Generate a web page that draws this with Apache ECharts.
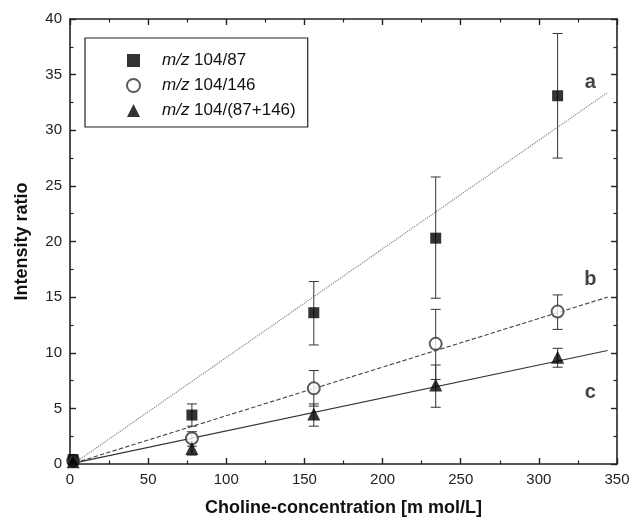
<!DOCTYPE html>
<html><head><meta charset="utf-8">
<script src="https://cdn.jsdelivr.net/npm/echarts@6/dist/echarts.min.js"></script>
<style>html,body{margin:0;padding:0;background:#fff}#c{width:633px;height:523px}</style>
</head><body><div id="c"></div>
<script>
// ---- data ----
const concentrations = [2, 78, 156, 234, 312];
const ratio87 = [0.4, 4.4, 13.6, 20.3, 33.1];
const ratio87Low = [0.3, 3.4, 10.7, 14.9, 27.5];
const ratio87High = [0.5, 5.4, 16.4, 25.8, 38.7];
const ratio146 = [0.3, 2.3, 6.8, 10.8, 13.7];
const ratio146Low = [0.2, 1.6, 5.2, 7.6, 12.1];
const ratio146High = [0.4, 2.9, 8.4, 13.9, 15.2];
const ratioSum = [0.2, 1.4, 4.5, 7.1, 9.6];
const ratioSumLow = [0.1, 0.8, 3.4, 5.1, 8.7];
const ratioSumHigh = [0.3, 2.0, 5.4, 8.9, 10.4];
const fitX = [3, 344];
const fitA = [0.1, 33.4];
const fitB = [0.1, 15.0];
const fitC = [0.1, 10.2];
const seriesNames = ['m/z 104/87', 'm/z 104/146', 'm/z 104/(87+146)'];
const curveLabels = ['a', 'b', 'c'];
const curveLabelX = [333, 333, 333];
const curveLabelY = [34.3, 16.6, 6.4];
const xTickLabels = [0, 50, 100, 150, 200, 250, 300, 350];
const yTickLabels = [0, 5, 10, 15, 20, 25, 30, 35, 40];

const FONT = '"Liberation Sans", Arial, sans-serif';
const AX = '#222';

function errorBars(low, high) {
  return {
    type: 'custom', silent: true, z: 2,
    data: concentrations.map((x, i) => [x, low[i], high[i]]),
    renderItem: function (params, api) {
      const x = api.value(0);
      const lo = api.coord([x, api.value(1)]);
      const hi = api.coord([x, api.value(2)]);
      const hw = 5;
      const st = { stroke: '#333', lineWidth: 1 };
      return { type: 'group', children: [
        { type: 'line', shape: { x1: lo[0], y1: lo[1], x2: hi[0], y2: hi[1] }, style: st },
        { type: 'line', shape: { x1: lo[0] - hw, y1: lo[1], x2: lo[0] + hw, y2: lo[1] }, style: st },
        { type: 'line', shape: { x1: hi[0] - hw, y1: hi[1], x2: hi[0] + hw, y2: hi[1] }, style: st }
      ]};
    }
  };
}
function fitLine(ys, type, color) {
  return { type: 'line', silent: true, showSymbol: false, symbol: 'none', z: 1,
    data: fitX.map((x, i) => [x, ys[i]]),
    lineStyle: { type: type, color: color, width: 1.1 } };
}
function axisCommon(extra) {
  return Object.assign({
    type: 'value',
    axisLine: { show: true, onZero: false, lineStyle: { color: AX, width: 1.6 } },
    axisTick: { show: true, inside: true, length: 6, lineStyle: { color: AX, width: 1.4 } },
    minorTick: { show: true, splitNumber: 2, length: 3.5, lineStyle: { color: AX, width: 1.2 } },
    splitLine: { show: false }
  }, extra);
}

const chart = echarts.init(document.getElementById('c'), null, { renderer: 'canvas' });
chart.setOption({
  backgroundColor: '#fff',
  animation: false,
  grid: { left: 70, right: 16, top: 19, bottom: 59 },
  xAxis: [
    axisCommon({ min: 0, max: 350, interval: 50, position: 'bottom',
      name: 'Choline-concentration [m mol/L]', nameLocation: 'middle', nameGap: 35,
      nameTextStyle: { fontFamily: FONT, fontWeight: 'bold', fontSize: 18, color: '#111' },
      axisLabel: { margin: 8, fontFamily: FONT, fontSize: 15, color: '#222',
        formatter: v => xTickLabels.includes(v) ? String(v) : '' } }),
    axisCommon({ min: 0, max: 350, interval: 50, position: 'top', axisLabel: { show: false } })
  ],
  yAxis: [
    axisCommon({ min: 0, max: 40, interval: 5, position: 'left',
      name: 'Intensity ratio', nameLocation: 'middle', nameGap: 39,
      nameTextStyle: { fontFamily: FONT, fontWeight: 'bold', fontSize: 18, color: '#111' },
      axisLabel: { margin: 8, fontFamily: FONT, fontSize: 15, color: '#222',
        formatter: v => yTickLabels.includes(v) ? String(v) : '' } }),
    axisCommon({ min: 0, max: 40, interval: 5, position: 'right', axisLabel: { show: false } })
  ],
  legend: {
    orient: 'vertical', left: 85, top: 38,
    data: seriesNames,
    itemWidth: 13, itemHeight: 13, itemGap: 8,
    padding: [14, 12, 8, 41],
    borderColor: '#222', borderWidth: 1.2,
    textStyle: { fontFamily: FONT, fontSize: 17, color: '#111', lineHeight: 17,
      rich: { sp: { width: 17, fontSize: 17, lineHeight: 17 },
              i: { fontStyle: 'italic', fontFamily: FONT, fontSize: 17, color: '#111', lineHeight: 17 },
              n: { fontFamily: FONT, fontSize: 17, color: '#111', lineHeight: 17 } } },
    formatter: n => '{sp| }{i|m/z}{n| ' + n.slice(4) + '}'
  },
  series: [
    fitLine(fitA, 'dotted', '#777'),
    fitLine(fitB, 'dashed', '#444'),
    fitLine(fitC, 'solid', '#333'),
    errorBars(ratio87Low, ratio87High),
    errorBars(ratio146Low, ratio146High),
    errorBars(ratioSumLow, ratioSumHigh),
    { name: seriesNames[0], type: 'scatter', symbol: 'rect', symbolSize: 11, z: 5,
      itemStyle: { color: '#000' }, data: concentrations.map((x, i) => [x, ratio87[i]]) },
    { name: seriesNames[1], type: 'scatter', symbol: 'emptyCircle', symbolSize: 12, z: 4,
      itemStyle: { color: '#333', borderColor: '#333', borderWidth: 1 },
      data: concentrations.map((x, i) => [x, ratio146[i]]) },
    { name: seriesNames[2], type: 'scatter', symbol: 'triangle', symbolSize: 13, z: 5,
      itemStyle: { color: '#000' }, data: concentrations.map((x, i) => [x, ratioSum[i]]) },
    { type: 'scatter', silent: true, symbolSize: 0, z: 6,
      data: curveLabels.map((t, i) => ({ value: [curveLabelX[i], curveLabelY[i]], name: t })),
      label: { show: true, position: 'inside', formatter: p => p.name,
        fontFamily: FONT, fontWeight: 'bold', fontSize: 20, color: '#111' } }
  ]
});
</script></body></html>
